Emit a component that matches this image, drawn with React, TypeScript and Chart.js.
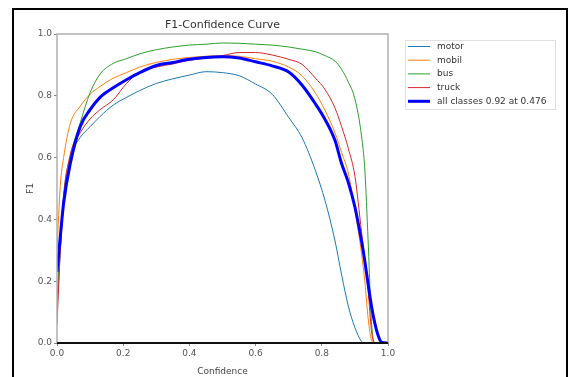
import React, { useEffect, useRef } from "react";
import { Chart, registerables } from "chart.js";

Chart.register(...registerables);

const conf = [0, 0.01, 0.02, 0.04, 0.07, 0.1, 0.13, 0.17, 0.21, 0.25, 0.3, 0.35, 0.4, 0.45, 0.5, 0.55, 0.6, 0.65, 0.7, 0.74, 0.78, 0.81, 0.84, 0.86, 0.88, 0.9, 0.92, 0.93, 0.94, 0.95, 0.96, 0.97, 0.98, 1.0];

const motor = [0.10, 0.30, 0.48, 0.60, 0.665, 0.70, 0.733, 0.77, 0.795, 0.817, 0.84, 0.855, 0.867, 0.878, 0.875, 0.865, 0.838, 0.805, 0.73, 0.665, 0.56, 0.46, 0.33, 0.22, 0.12, 0.05, 0.005, 0, 0, 0, 0, 0, 0, 0];
const mobil = [0.30, 0.51, 0.60, 0.71, 0.766, 0.805, 0.83, 0.857, 0.875, 0.893, 0.908, 0.918, 0.924, 0.928, 0.93, 0.928, 0.92, 0.912, 0.893, 0.865, 0.81, 0.752, 0.68, 0.616, 0.55, 0.43, 0.29, 0.2, 0.08, 0.01, 0, 0, 0, 0];
const bus = [0.15, 0.30, 0.45, 0.60, 0.712, 0.81, 0.87, 0.905, 0.92, 0.936, 0.949, 0.958, 0.964, 0.967, 0.971, 0.97, 0.967, 0.964, 0.958, 0.951, 0.943, 0.93, 0.912, 0.885, 0.845, 0.79, 0.67, 0.56, 0.33, 0.07, 0, 0, 0, 0];
const truck = [0.06, 0.30, 0.47, 0.61, 0.68, 0.725, 0.755, 0.787, 0.84, 0.877, 0.893, 0.903, 0.915, 0.922, 0.93, 0.94, 0.94, 0.932, 0.918, 0.902, 0.858, 0.82, 0.76, 0.70, 0.63, 0.54, 0.36, 0.27, 0.17, 0.04, 0, 0, 0, 0];
const allClasses = [0.23, 0.345, 0.453, 0.58, 0.70, 0.755, 0.795, 0.826, 0.852, 0.875, 0.898, 0.908, 0.918, 0.924, 0.926, 0.922, 0.91, 0.897, 0.877, 0.835, 0.775, 0.723, 0.655, 0.58, 0.52, 0.44, 0.33, 0.265, 0.19, 0.12, 0.065, 0.025, 0.003, 0];

const seriesLabels = ["motor", "mobil", "bus", "truck", "all classes 0.92 at 0.476"];
const seriesColors = ["#1f77b4", "#ff7f0e", "#2ca02c", "#d62728", "#0000ff"];
const seriesWidths = [1, 1, 1, 1, 3];
const xTicks = [0, 0.2, 0.4, 0.6, 0.8, 1.0];

const FONT = "'DejaVu Sans', sans-serif";

const decorPlugin = {
  id: "decor",
  afterDraw(chart: any) {
    const ctx = chart.ctx;
    const a = chart.chartArea;
    ctx.save();
    ctx.strokeStyle = "#b0b0b0";
    ctx.lineWidth = 1.5;
    ctx.beginPath();
    ctx.moveTo(a.left, a.bottom);
    ctx.lineTo(a.left, a.top);
    ctx.lineTo(a.right, a.top);
    ctx.lineTo(a.right, a.bottom);
    ctx.stroke();
    ctx.strokeStyle = "#111";
    ctx.lineWidth = 2;
    ctx.beginPath();
    ctx.moveTo(a.left, a.bottom);
    ctx.lineTo(a.right, a.bottom);
    ctx.stroke();
    ctx.fillStyle = "#333";
    ctx.font = "11px " + FONT;
    ctx.textAlign = "center";
    ctx.textBaseline = "middle";
    ctx.fillText("F1-Confidence Curve", (a.left + a.right) / 2, 25);
    const lx = 405, ly = 40, lw = 150, lh = 69;
    ctx.fillStyle = "#fff";
    ctx.fillRect(lx, ly, lw, lh);
    ctx.strokeStyle = "#e0e0e0";
    ctx.lineWidth = 1;
    ctx.strokeRect(lx + 0.5, ly + 0.5, lw, lh);
    ctx.font = "9px " + FONT;
    ctx.textAlign = "left";
    for (let i = 0; i < seriesLabels.length; i++) {
      const y = 46.5 + i * 13.7;
      ctx.strokeStyle = seriesColors[i];
      ctx.lineWidth = seriesWidths[i];
      ctx.beginPath();
      ctx.moveTo(408, y);
      ctx.lineTo(430, y);
      ctx.stroke();
      ctx.fillStyle = "#333";
      ctx.fillText(seriesLabels[i], 437, y);
    }
    ctx.restore();
  },
};

export default function App() {
  const ref = useRef<HTMLCanvasElement | null>(null);
  useEffect(() => {
    if (!ref.current) return;
    const all = [motor, mobil, bus, truck, allClasses];
    const chart = new Chart(ref.current, {
      type: "line",
      data: {
        datasets: all.map((vals, i) => ({
          label: seriesLabels[i],
          data: conf.map((c, j) => ({ x: c, y: vals[j] })),
          borderColor: seriesColors[i],
          backgroundColor: seriesColors[i],
          borderWidth: seriesWidths[i],
          pointRadius: 0,
          cubicInterpolationMode: "monotone",
          fill: false,
          order: 4 - i,
        })),
      },
      options: {
        responsive: false,
        animation: false,
        devicePixelRatio: 1,
        layout: { padding: { left: 17, top: 34, right: 182, bottom: 0 } },
        plugins: { legend: { display: false }, title: { display: false }, tooltip: { enabled: false } },
        scales: {
          x: {
            type: "linear",
            min: 0,
            max: 1,
            afterFit: (s: any) => { s.height = 34; },
            afterBuildTicks: (s: any) => { s.ticks = xTicks.map((v) => ({ value: v })); },
            ticks: {
              color: "#555",
              font: { family: FONT, size: 9 },
              padding: 2,
              maxRotation: 0,
              callback: (v: any) => Number(v).toFixed(1),
            },
            grid: { display: true, drawOnChartArea: false, drawTicks: true, tickLength: 3, color: "#888" },
            border: { display: false },
            title: { display: true, text: "Confidence", color: "#444", font: { family: FONT, size: 9 }, padding: { top: 1, bottom: 0 } },
          },
          y: {
            type: "linear",
            min: 0,
            max: 1,
            afterFit: (s: any) => { s.width = 40; },
            ticks: {
              color: "#555",
              font: { family: FONT, size: 9 },
              padding: 2,
              stepSize: 0.2,
              callback: (v: any) => Number(v).toFixed(1),
            },
            grid: { display: true, drawOnChartArea: false, drawTicks: true, tickLength: 3, color: "#888" },
            border: { display: false },
            title: { display: true, text: "F1", color: "#444", font: { family: FONT, size: 9 }, padding: { top: 8, bottom: 0 } },
          },
        },
      },
      plugins: [decorPlugin],
    } as any);
    return () => chart.destroy();
  }, []);
  return (
    <div style={{ position: "fixed", left: 0, top: 0, width: 570, height: 377, background: "#fff", overflow: "hidden" }}>
      <canvas ref={ref} width={570} height={377} style={{ position: "absolute", left: 0, top: 0, width: 570, height: 377 }} />
      <div style={{ position: "absolute", left: 12, top: 8, width: 552, height: 400, border: "2px solid #000", pointerEvents: "none" }} />
    </div>
  );
}
